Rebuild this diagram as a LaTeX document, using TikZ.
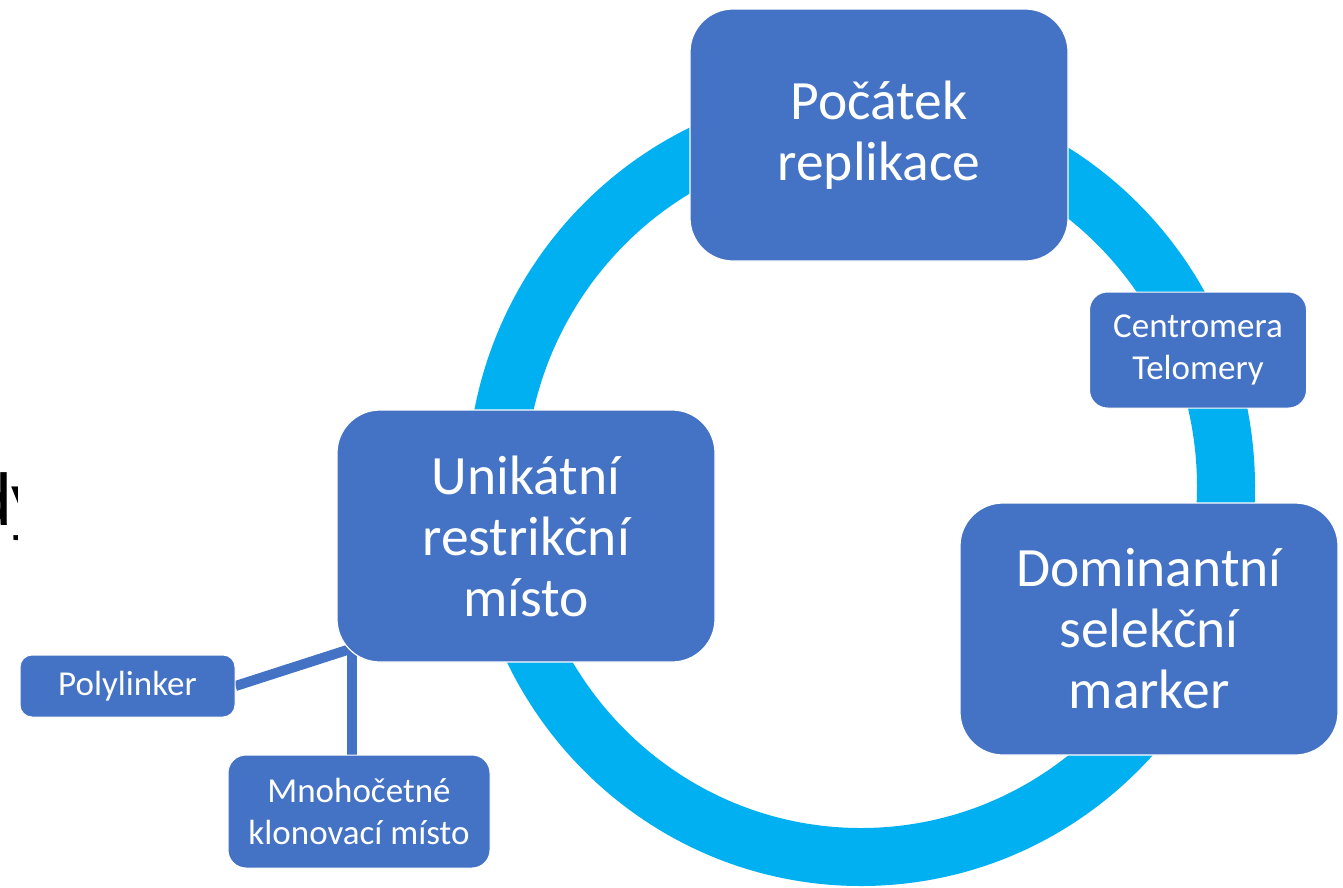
\documentclass[tikz,border=0pt]{standalone}
\usepackage{fontspec}
\setmainfont{Carlito}
\newfontfamily\arialfont{Liberation Sans}
\usetikzlibrary{backgrounds}
\definecolor{ringcyan}{HTML}{00B0F0}
\definecolor{boxblue}{HTML}{4472C4}

\begin{document}
\begin{tikzpicture}[x=1pt,y=-1pt,
  bigbox/.style={fill=boxblue, draw=white, line width=1.2pt, rounded corners=43pt,
    minimum width=378pt, minimum height=252pt, text=white, align=center,
    font=\fontsize{55.5}{61}\selectfont, inner sep=0pt},
  smallbox/.style={fill=boxblue, draw=white, line width=1pt, rounded corners=16pt,
    text=white, align=center, font=\fontsize{35}{42}\selectfont, inner sep=0pt},
  link/.style={draw=boxblue, line width=10pt}]

\useasboundingbox (0,0) rectangle (1343,887);

% clipped label at the left edge
\begin{scope}
  \clip (0,440) rectangle (17.5,560);
  \node[anchor=base west, inner sep=0pt, font=\arialfont\fontsize{73}{80}\selectfont]
    (dytext) at (-28.8,525) {dy};
\end{scope}

% main boxes
\node[bigbox] (pocatek) at (879,135) {Počátek\\replikace};
\node[bigbox] (unik) at (526,536) {Unikátní\\restrikční\\místo};
\node[bigbox] (domin) at (1149,629) {Dominantní\\selekční\\marker};

% side boxes
\node[smallbox, minimum width=217pt, minimum height=116pt, rounded corners=18pt]
  (centro) at (1198,350) {Centromera\\Telomery};
\node[smallbox, minimum width=215pt, minimum height=62pt, rounded corners=12pt]
  (poly) at (127.5,686) {Polylinker};
\node[smallbox, minimum width=262pt, minimum height=113pt, rounded corners=18pt]
  (mnoh) at (359,811.5) {Mnohočetné\\klonovací místo};

% connector ends hidden under the corner of the parent box
\coordinate (hubA) at (372,642);
\coordinate (hubB) at (352,630);

% ring and connectors beneath the boxes
\begin{scope}[on background layer]
  \fill[white] (0,0) rectangle (1343,887);
  \draw[ringcyan, line width=58pt] (861,487) ellipse[x radius=365pt, y radius=370pt];
  \draw[link] (hubA) -- (poly.east);
  \draw[link] (hubB) -- (hubB |- mnoh.north);
\end{scope}
\end{tikzpicture}
\end{document}
